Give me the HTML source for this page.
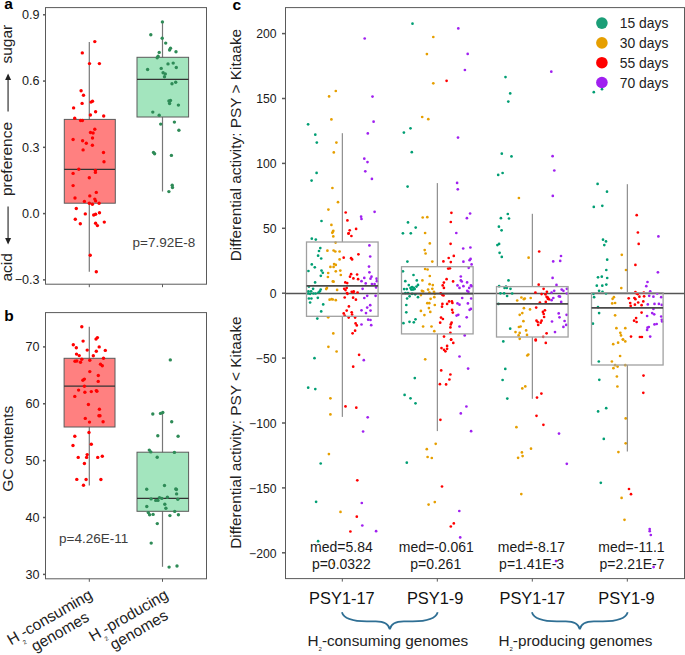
<!DOCTYPE html>
<html><head><meta charset="utf-8"><style>
html,body{margin:0;padding:0;background:#fff;}
svg{display:block;font-family:"Liberation Sans", sans-serif;}
</style></head><body>
<svg width="685" height="655" viewBox="0 0 685 655">
<rect x="0" y="0" width="685" height="655" fill="#fff"/>
<rect x="45.5" y="7.6" width="161.0" height="276.6" fill="none" stroke="#5a5a5a" stroke-width="1"/>
<line x1="43" y1="14.79" x2="45.5" y2="14.79" stroke="#5a5a5a" stroke-width="1.5"/>
<text x="39.6" y="19.09" font-size="12.6" text-anchor="end" fill="#1a1a1a" font-weight="normal" >0.9</text>
<line x1="43" y1="81.06" x2="45.5" y2="81.06" stroke="#5a5a5a" stroke-width="1.5"/>
<text x="39.6" y="85.36" font-size="12.6" text-anchor="end" fill="#1a1a1a" font-weight="normal" >0.6</text>
<line x1="43" y1="147.33" x2="45.5" y2="147.33" stroke="#5a5a5a" stroke-width="1.5"/>
<text x="39.6" y="151.63" font-size="12.6" text-anchor="end" fill="#1a1a1a" font-weight="normal" >0.3</text>
<line x1="43" y1="213.6" x2="45.5" y2="213.6" stroke="#5a5a5a" stroke-width="1.5"/>
<text x="39.6" y="217.9" font-size="12.6" text-anchor="end" fill="#1a1a1a" font-weight="normal" >0.0</text>
<line x1="43" y1="279.87" x2="45.5" y2="279.87" stroke="#5a5a5a" stroke-width="1.5"/>
<text x="39.6" y="284.17" font-size="12.6" text-anchor="end" fill="#1a1a1a" font-weight="normal" >−0.3</text>
<line x1="89.3" y1="284.2" x2="89.3" y2="287.2" stroke="#5a5a5a" stroke-width="1"/>
<line x1="162.5" y1="284.2" x2="162.5" y2="287.2" stroke="#5a5a5a" stroke-width="1"/>
<line x1="89.3" y1="41.9" x2="89.3" y2="271.7" stroke="#777" stroke-width="1.2"/>
<rect x="64.3" y="119.4" width="51.0" height="83.8" fill="#ff8080" stroke="#5a5a5a" stroke-width="1"/>
<line x1="64.1" y1="169.3" x2="115" y2="169.3" stroke="#333" stroke-width="1.3"/>
<line x1="162.5" y1="22" x2="162.5" y2="191.5" stroke="#777" stroke-width="1.2"/>
<rect x="137" y="57.3" width="51.6" height="59.7" fill="#a3e5be" stroke="#5a5a5a" stroke-width="1"/>
<line x1="137" y1="79.3" x2="188.6" y2="79.3" stroke="#333" stroke-width="1.3"/>
<text x="163.85" y="246.7" font-size="13.5" text-anchor="middle" fill="#3d3d3d" font-weight="normal" >p=7.92E-8</text>
<circle cx="94.8" cy="41.6" r="1.7" fill="#ff0000"/>
<circle cx="82.3" cy="52.9" r="1.7" fill="#ff0000"/>
<circle cx="89.5" cy="63.6" r="1.7" fill="#ff0000"/>
<circle cx="99.4" cy="63.6" r="1.7" fill="#ff0000"/>
<circle cx="81.1" cy="90.8" r="1.7" fill="#ff0000"/>
<circle cx="83.5" cy="95.2" r="1.7" fill="#ff0000"/>
<circle cx="82.1" cy="103.4" r="1.7" fill="#ff0000"/>
<circle cx="91" cy="102.1" r="1.7" fill="#ff0000"/>
<circle cx="92.5" cy="101.3" r="1.7" fill="#ff0000"/>
<circle cx="73.6" cy="107.9" r="1.7" fill="#ff0000"/>
<circle cx="95.6" cy="111.7" r="1.7" fill="#ff0000"/>
<circle cx="90.4" cy="115" r="1.7" fill="#ff0000"/>
<circle cx="103.7" cy="116" r="1.7" fill="#ff0000"/>
<circle cx="74.7" cy="118.2" r="1.7" fill="#ff0000"/>
<circle cx="80.6" cy="120.5" r="1.7" fill="#ff0000"/>
<circle cx="82.4" cy="120.5" r="1.7" fill="#ff0000"/>
<circle cx="94.8" cy="129.2" r="1.7" fill="#ff0000"/>
<circle cx="90.5" cy="132.5" r="1.7" fill="#ff0000"/>
<circle cx="93.1" cy="133" r="1.7" fill="#ff0000"/>
<circle cx="73.1" cy="139.5" r="1.7" fill="#ff0000"/>
<circle cx="92.5" cy="138" r="1.7" fill="#ff0000"/>
<circle cx="82.6" cy="140.8" r="1.7" fill="#ff0000"/>
<circle cx="86.3" cy="143.2" r="1.7" fill="#ff0000"/>
<circle cx="92.4" cy="145.2" r="1.7" fill="#ff0000"/>
<circle cx="83.1" cy="149.9" r="1.7" fill="#ff0000"/>
<circle cx="103.5" cy="152.5" r="1.7" fill="#ff0000"/>
<circle cx="104" cy="161.7" r="1.7" fill="#ff0000"/>
<circle cx="78.8" cy="169.3" r="1.7" fill="#ff0000"/>
<circle cx="95.4" cy="170.4" r="1.7" fill="#ff0000"/>
<circle cx="95.4" cy="172.4" r="1.7" fill="#ff0000"/>
<circle cx="73.1" cy="173.4" r="1.7" fill="#ff0000"/>
<circle cx="89.3" cy="177.7" r="1.7" fill="#ff0000"/>
<circle cx="73.1" cy="185.6" r="1.7" fill="#ff0000"/>
<circle cx="96.3" cy="192.4" r="1.7" fill="#ff0000"/>
<circle cx="89.8" cy="195.9" r="1.7" fill="#ff0000"/>
<circle cx="75" cy="198" r="1.7" fill="#ff0000"/>
<circle cx="94.8" cy="199.1" r="1.7" fill="#ff0000"/>
<circle cx="95.6" cy="200.9" r="1.7" fill="#ff0000"/>
<circle cx="84.4" cy="201.4" r="1.7" fill="#ff0000"/>
<circle cx="89.3" cy="203.2" r="1.7" fill="#ff0000"/>
<circle cx="92.4" cy="204.3" r="1.7" fill="#ff0000"/>
<circle cx="99.1" cy="203.2" r="1.7" fill="#ff0000"/>
<circle cx="76.3" cy="208.5" r="1.7" fill="#ff0000"/>
<circle cx="85.3" cy="213.9" r="1.7" fill="#ff0000"/>
<circle cx="93.7" cy="215" r="1.7" fill="#ff0000"/>
<circle cx="95.6" cy="214.2" r="1.7" fill="#ff0000"/>
<circle cx="99.5" cy="212.8" r="1.7" fill="#ff0000"/>
<circle cx="75.3" cy="219.2" r="1.7" fill="#ff0000"/>
<circle cx="80.3" cy="223.8" r="1.7" fill="#ff0000"/>
<circle cx="95.6" cy="223.2" r="1.7" fill="#ff0000"/>
<circle cx="97.4" cy="225.6" r="1.7" fill="#ff0000"/>
<circle cx="104.3" cy="222.1" r="1.7" fill="#ff0000"/>
<circle cx="90.2" cy="255.3" r="1.7" fill="#ff0000"/>
<circle cx="96.3" cy="271.8" r="1.7" fill="#ff0000"/>
<circle cx="162.4" cy="21.9" r="1.7" fill="#2e8b57"/>
<circle cx="150.8" cy="34.8" r="1.7" fill="#2e8b57"/>
<circle cx="162.2" cy="38.2" r="1.7" fill="#2e8b57"/>
<circle cx="165.7" cy="43.1" r="1.7" fill="#2e8b57"/>
<circle cx="170.5" cy="48.3" r="1.7" fill="#2e8b57"/>
<circle cx="169.6" cy="50" r="1.7" fill="#2e8b57"/>
<circle cx="176" cy="51.8" r="1.7" fill="#2e8b57"/>
<circle cx="159.2" cy="52.4" r="1.7" fill="#2e8b57"/>
<circle cx="158.1" cy="56.2" r="1.7" fill="#2e8b57"/>
<circle cx="157.2" cy="57.7" r="1.7" fill="#2e8b57"/>
<circle cx="168" cy="63.9" r="1.7" fill="#2e8b57"/>
<circle cx="173.2" cy="63.1" r="1.7" fill="#2e8b57"/>
<circle cx="176.3" cy="67.5" r="1.7" fill="#2e8b57"/>
<circle cx="147.6" cy="69.5" r="1.7" fill="#2e8b57"/>
<circle cx="161.2" cy="68.4" r="1.7" fill="#2e8b57"/>
<circle cx="163.1" cy="72.7" r="1.7" fill="#2e8b57"/>
<circle cx="165.3" cy="73.9" r="1.7" fill="#2e8b57"/>
<circle cx="164.5" cy="76.7" r="1.7" fill="#2e8b57"/>
<circle cx="172" cy="83.7" r="1.7" fill="#2e8b57"/>
<circle cx="175.7" cy="82.2" r="1.7" fill="#2e8b57"/>
<circle cx="168.9" cy="101" r="1.7" fill="#2e8b57"/>
<circle cx="170.5" cy="100.5" r="1.7" fill="#2e8b57"/>
<circle cx="169.6" cy="103.5" r="1.7" fill="#2e8b57"/>
<circle cx="178.4" cy="105.1" r="1.7" fill="#2e8b57"/>
<circle cx="152.8" cy="112.1" r="1.7" fill="#2e8b57"/>
<circle cx="159.2" cy="115.3" r="1.7" fill="#2e8b57"/>
<circle cx="160.7" cy="124.1" r="1.7" fill="#2e8b57"/>
<circle cx="174.4" cy="122.1" r="1.7" fill="#2e8b57"/>
<circle cx="178.9" cy="130.2" r="1.7" fill="#2e8b57"/>
<circle cx="153.5" cy="152.4" r="1.7" fill="#2e8b57"/>
<circle cx="154.6" cy="153.7" r="1.7" fill="#2e8b57"/>
<circle cx="171.4" cy="155.4" r="1.7" fill="#2e8b57"/>
<circle cx="172.2" cy="185.2" r="1.7" fill="#2e8b57"/>
<circle cx="172.5" cy="187.5" r="1.7" fill="#2e8b57"/>
<circle cx="168.9" cy="191.6" r="1.7" fill="#2e8b57"/>
<rect x="45.5" y="312.6" width="161.0" height="266.2" fill="none" stroke="#5a5a5a" stroke-width="1"/>
<line x1="43" y1="346.9" x2="45.5" y2="346.9" stroke="#5a5a5a" stroke-width="1.5"/>
<text x="39.6" y="351.2" font-size="12.6" text-anchor="end" fill="#1a1a1a" font-weight="normal" >70</text>
<line x1="43" y1="403.77" x2="45.5" y2="403.77" stroke="#5a5a5a" stroke-width="1.5"/>
<text x="39.6" y="408.07" font-size="12.6" text-anchor="end" fill="#1a1a1a" font-weight="normal" >60</text>
<line x1="43" y1="460.65" x2="45.5" y2="460.65" stroke="#5a5a5a" stroke-width="1.5"/>
<text x="39.6" y="464.95" font-size="12.6" text-anchor="end" fill="#1a1a1a" font-weight="normal" >50</text>
<line x1="43" y1="517.52" x2="45.5" y2="517.52" stroke="#5a5a5a" stroke-width="1.5"/>
<text x="39.6" y="521.82" font-size="12.6" text-anchor="end" fill="#1a1a1a" font-weight="normal" >40</text>
<line x1="43" y1="574.4" x2="45.5" y2="574.4" stroke="#5a5a5a" stroke-width="1.5"/>
<text x="39.6" y="578.7" font-size="12.6" text-anchor="end" fill="#1a1a1a" font-weight="normal" >30</text>
<line x1="89.3" y1="578.8" x2="89.3" y2="581.8" stroke="#5a5a5a" stroke-width="1"/>
<line x1="162.5" y1="578.8" x2="162.5" y2="581.8" stroke="#5a5a5a" stroke-width="1"/>
<line x1="89.3" y1="326.7" x2="89.3" y2="485.4" stroke="#777" stroke-width="1.2"/>
<rect x="64.1" y="358.3" width="50.9" height="68.7" fill="#ff8080" stroke="#5a5a5a" stroke-width="1"/>
<line x1="64.1" y1="386.2" x2="115" y2="386.2" stroke="#333" stroke-width="1.3"/>
<line x1="162.5" y1="411.4" x2="162.5" y2="566.8" stroke="#777" stroke-width="1.2"/>
<rect x="137" y="452.2" width="51.6" height="59.1" fill="#a3e5be" stroke="#5a5a5a" stroke-width="1"/>
<line x1="137" y1="498.3" x2="188.6" y2="498.3" stroke="#333" stroke-width="1.3"/>
<text x="93.65" y="542.9" font-size="13.5" text-anchor="middle" fill="#3d3d3d" font-weight="normal" >p=4.26E-11</text>
<circle cx="81.8" cy="326.8" r="1.7" fill="#ff0000"/>
<circle cx="96" cy="339.1" r="1.7" fill="#ff0000"/>
<circle cx="97.4" cy="337.6" r="1.7" fill="#ff0000"/>
<circle cx="83.1" cy="341.1" r="1.7" fill="#ff0000"/>
<circle cx="73.3" cy="344.8" r="1.7" fill="#ff0000"/>
<circle cx="76.3" cy="347.7" r="1.7" fill="#ff0000"/>
<circle cx="87.2" cy="350.1" r="1.7" fill="#ff0000"/>
<circle cx="99.2" cy="346.9" r="1.7" fill="#ff0000"/>
<circle cx="96.3" cy="351.3" r="1.7" fill="#ff0000"/>
<circle cx="105.3" cy="350.4" r="1.7" fill="#ff0000"/>
<circle cx="76.5" cy="354.1" r="1.7" fill="#ff0000"/>
<circle cx="79.2" cy="355.6" r="1.7" fill="#ff0000"/>
<circle cx="93.3" cy="355.8" r="1.7" fill="#ff0000"/>
<circle cx="103.5" cy="358.2" r="1.7" fill="#ff0000"/>
<circle cx="81.8" cy="359.3" r="1.7" fill="#ff0000"/>
<circle cx="75" cy="361.3" r="1.7" fill="#ff0000"/>
<circle cx="76.8" cy="361" r="1.7" fill="#ff0000"/>
<circle cx="80.5" cy="362.2" r="1.7" fill="#ff0000"/>
<circle cx="89.8" cy="360.3" r="1.7" fill="#ff0000"/>
<circle cx="100.5" cy="364.2" r="1.7" fill="#ff0000"/>
<circle cx="102.3" cy="365.7" r="1.7" fill="#ff0000"/>
<circle cx="89.8" cy="371.6" r="1.7" fill="#ff0000"/>
<circle cx="98.3" cy="375.5" r="1.7" fill="#ff0000"/>
<circle cx="82.9" cy="380.3" r="1.7" fill="#ff0000"/>
<circle cx="84.4" cy="379.1" r="1.7" fill="#ff0000"/>
<circle cx="98.2" cy="381.4" r="1.7" fill="#ff0000"/>
<circle cx="84.4" cy="386.3" r="1.7" fill="#ff0000"/>
<circle cx="78.6" cy="390.1" r="1.7" fill="#ff0000"/>
<circle cx="84.9" cy="392.3" r="1.7" fill="#ff0000"/>
<circle cx="91.3" cy="391.6" r="1.7" fill="#ff0000"/>
<circle cx="96.3" cy="390.6" r="1.7" fill="#ff0000"/>
<circle cx="96.9" cy="391.3" r="1.7" fill="#ff0000"/>
<circle cx="74.8" cy="396.4" r="1.7" fill="#ff0000"/>
<circle cx="88.4" cy="404.5" r="1.7" fill="#ff0000"/>
<circle cx="99.4" cy="409.2" r="1.7" fill="#ff0000"/>
<circle cx="98.9" cy="415.7" r="1.7" fill="#ff0000"/>
<circle cx="100" cy="415.7" r="1.7" fill="#ff0000"/>
<circle cx="85.3" cy="418.4" r="1.7" fill="#ff0000"/>
<circle cx="89.5" cy="422.1" r="1.7" fill="#ff0000"/>
<circle cx="103.1" cy="421.8" r="1.7" fill="#ff0000"/>
<circle cx="89" cy="432.5" r="1.7" fill="#ff0000"/>
<circle cx="74.8" cy="436.3" r="1.7" fill="#ff0000"/>
<circle cx="73" cy="445.5" r="1.7" fill="#ff0000"/>
<circle cx="91.3" cy="444.2" r="1.7" fill="#ff0000"/>
<circle cx="87.2" cy="454.6" r="1.7" fill="#ff0000"/>
<circle cx="86.6" cy="457.4" r="1.7" fill="#ff0000"/>
<circle cx="78.2" cy="457.4" r="1.7" fill="#ff0000"/>
<circle cx="97.7" cy="457.4" r="1.7" fill="#ff0000"/>
<circle cx="102.3" cy="456.3" r="1.7" fill="#ff0000"/>
<circle cx="84.4" cy="463.5" r="1.7" fill="#ff0000"/>
<circle cx="76.8" cy="479.4" r="1.7" fill="#ff0000"/>
<circle cx="86.1" cy="479.5" r="1.7" fill="#ff0000"/>
<circle cx="100.9" cy="479.5" r="1.7" fill="#ff0000"/>
<circle cx="83.5" cy="485.3" r="1.7" fill="#ff0000"/>
<circle cx="170.3" cy="359.9" r="1.7" fill="#2e8b57"/>
<circle cx="152.8" cy="414" r="1.7" fill="#2e8b57"/>
<circle cx="160.5" cy="413.4" r="1.7" fill="#2e8b57"/>
<circle cx="162.8" cy="412.5" r="1.7" fill="#2e8b57"/>
<circle cx="171.7" cy="421.7" r="1.7" fill="#2e8b57"/>
<circle cx="157.8" cy="435.7" r="1.7" fill="#2e8b57"/>
<circle cx="178.1" cy="436.2" r="1.7" fill="#2e8b57"/>
<circle cx="149.3" cy="450.1" r="1.7" fill="#2e8b57"/>
<circle cx="150.8" cy="451.9" r="1.7" fill="#2e8b57"/>
<circle cx="174.4" cy="452.4" r="1.7" fill="#2e8b57"/>
<circle cx="157.2" cy="457.3" r="1.7" fill="#2e8b57"/>
<circle cx="164.5" cy="485.5" r="1.7" fill="#2e8b57"/>
<circle cx="146.7" cy="489.3" r="1.7" fill="#2e8b57"/>
<circle cx="175.8" cy="488.9" r="1.7" fill="#2e8b57"/>
<circle cx="176.4" cy="489.5" r="1.7" fill="#2e8b57"/>
<circle cx="176.6" cy="493.9" r="1.7" fill="#2e8b57"/>
<circle cx="151.1" cy="498.9" r="1.7" fill="#2e8b57"/>
<circle cx="155.7" cy="500.4" r="1.7" fill="#2e8b57"/>
<circle cx="158" cy="500.4" r="1.7" fill="#2e8b57"/>
<circle cx="159.5" cy="497.6" r="1.7" fill="#2e8b57"/>
<circle cx="161.8" cy="498.4" r="1.7" fill="#2e8b57"/>
<circle cx="167.4" cy="497.2" r="1.7" fill="#2e8b57"/>
<circle cx="177.8" cy="499.2" r="1.7" fill="#2e8b57"/>
<circle cx="146.8" cy="506.5" r="1.7" fill="#2e8b57"/>
<circle cx="164.8" cy="504.2" r="1.7" fill="#2e8b57"/>
<circle cx="165.9" cy="508.3" r="1.7" fill="#2e8b57"/>
<circle cx="148.3" cy="512.6" r="1.7" fill="#2e8b57"/>
<circle cx="149.6" cy="514.7" r="1.7" fill="#2e8b57"/>
<circle cx="153.1" cy="514.4" r="1.7" fill="#2e8b57"/>
<circle cx="174.7" cy="511.4" r="1.7" fill="#2e8b57"/>
<circle cx="169.9" cy="515.6" r="1.7" fill="#2e8b57"/>
<circle cx="178.4" cy="514.7" r="1.7" fill="#2e8b57"/>
<circle cx="157.3" cy="523.6" r="1.7" fill="#2e8b57"/>
<circle cx="151.2" cy="543.1" r="1.7" fill="#2e8b57"/>
<circle cx="169.1" cy="567.1" r="1.7" fill="#2e8b57"/>
<circle cx="177" cy="566" r="1.7" fill="#2e8b57"/>
<rect x="285.5" y="7.6" width="399.0" height="571.0" fill="none" stroke="#5a5a5a" stroke-width="1"/>
<line x1="282" y1="33.6" x2="285.5" y2="33.6" stroke="#5a5a5a" stroke-width="1.5"/>
<text x="276.5" y="38.4" font-size="12.2" text-anchor="end" fill="#1a1a1a" font-weight="normal" >200</text>
<line x1="282" y1="98.5" x2="285.5" y2="98.5" stroke="#5a5a5a" stroke-width="1.5"/>
<text x="276.5" y="103.3" font-size="12.2" text-anchor="end" fill="#1a1a1a" font-weight="normal" >150</text>
<line x1="282" y1="163.4" x2="285.5" y2="163.4" stroke="#5a5a5a" stroke-width="1.5"/>
<text x="276.5" y="168.2" font-size="12.2" text-anchor="end" fill="#1a1a1a" font-weight="normal" >100</text>
<line x1="282" y1="228.3" x2="285.5" y2="228.3" stroke="#5a5a5a" stroke-width="1.5"/>
<text x="276.5" y="233.1" font-size="12.2" text-anchor="end" fill="#1a1a1a" font-weight="normal" >50</text>
<line x1="282" y1="293.2" x2="285.5" y2="293.2" stroke="#5a5a5a" stroke-width="1.5"/>
<text x="276.5" y="298.0" font-size="12.2" text-anchor="end" fill="#1a1a1a" font-weight="normal" >0</text>
<line x1="282" y1="358.1" x2="285.5" y2="358.1" stroke="#5a5a5a" stroke-width="1.5"/>
<text x="276.5" y="362.9" font-size="12.2" text-anchor="end" fill="#1a1a1a" font-weight="normal" >−50</text>
<line x1="282" y1="423.0" x2="285.5" y2="423.0" stroke="#5a5a5a" stroke-width="1.5"/>
<text x="276.5" y="427.8" font-size="12.2" text-anchor="end" fill="#1a1a1a" font-weight="normal" >−100</text>
<line x1="282" y1="487.9" x2="285.5" y2="487.9" stroke="#5a5a5a" stroke-width="1.5"/>
<text x="276.5" y="492.7" font-size="12.2" text-anchor="end" fill="#1a1a1a" font-weight="normal" >−150</text>
<line x1="282" y1="552.8" x2="285.5" y2="552.8" stroke="#5a5a5a" stroke-width="1.5"/>
<text x="276.5" y="557.6" font-size="12.2" text-anchor="end" fill="#1a1a1a" font-weight="normal" >−200</text>
<line x1="342.3" y1="578.6" x2="342.3" y2="581.6" stroke="#5a5a5a" stroke-width="1"/>
<line x1="437.3" y1="578.6" x2="437.3" y2="581.6" stroke="#5a5a5a" stroke-width="1"/>
<line x1="532.3" y1="578.6" x2="532.3" y2="581.6" stroke="#5a5a5a" stroke-width="1"/>
<line x1="627.3" y1="578.6" x2="627.3" y2="581.6" stroke="#5a5a5a" stroke-width="1"/>
<line x1="285.5" y1="293.5" x2="684.5" y2="293.5" stroke="#555" stroke-width="1.3"/>
<circle cx="364.7" cy="38.5" r="1.35" fill="#a020f0"/>
<circle cx="372.5" cy="96.6" r="1.35" fill="#a020f0"/>
<circle cx="373.6" cy="121.7" r="1.35" fill="#a020f0"/>
<circle cx="367.8" cy="133.4" r="1.35" fill="#a020f0"/>
<circle cx="364.3" cy="158.7" r="1.35" fill="#a020f0"/>
<circle cx="367.5" cy="162.1" r="1.35" fill="#a020f0"/>
<circle cx="365.3" cy="171.3" r="1.35" fill="#a020f0"/>
<circle cx="371.9" cy="178.9" r="1.35" fill="#a020f0"/>
<circle cx="374.6" cy="211.8" r="1.35" fill="#a020f0"/>
<circle cx="361.1" cy="216.7" r="1.35" fill="#a020f0"/>
<circle cx="361.5" cy="219" r="1.35" fill="#a020f0"/>
<circle cx="335.8" cy="91" r="1.35" fill="#e69f00"/>
<circle cx="329.1" cy="96.4" r="1.35" fill="#e69f00"/>
<circle cx="331.4" cy="119.4" r="1.35" fill="#e69f00"/>
<circle cx="336.4" cy="142.6" r="1.35" fill="#e69f00"/>
<circle cx="333.8" cy="152.4" r="1.35" fill="#e69f00"/>
<circle cx="332.4" cy="188" r="1.35" fill="#e69f00"/>
<circle cx="338" cy="202.2" r="1.35" fill="#e69f00"/>
<circle cx="328.4" cy="209.6" r="1.35" fill="#e69f00"/>
<circle cx="331.4" cy="224.9" r="1.35" fill="#e69f00"/>
<circle cx="333.3" cy="230.8" r="1.35" fill="#e69f00"/>
<circle cx="332.3" cy="232.8" r="1.35" fill="#e69f00"/>
<circle cx="308.1" cy="124.3" r="1.35" fill="#009e73"/>
<circle cx="315.3" cy="134.7" r="1.35" fill="#009e73"/>
<circle cx="316.8" cy="142.6" r="1.35" fill="#009e73"/>
<circle cx="316.6" cy="172.9" r="1.35" fill="#009e73"/>
<circle cx="311.6" cy="180.6" r="1.35" fill="#009e73"/>
<circle cx="321.5" cy="221" r="1.35" fill="#009e73"/>
<circle cx="345.7" cy="212.5" r="1.35" fill="#ff0000"/>
<circle cx="347.4" cy="220.4" r="1.35" fill="#ff0000"/>
<circle cx="356.1" cy="228.9" r="1.35" fill="#ff0000"/>
<circle cx="349.7" cy="230.3" r="1.35" fill="#ff0000"/>
<circle cx="348.4" cy="233.6" r="1.35" fill="#ff0000"/>
<circle cx="332.9" cy="231.7" r="1.35" fill="#e69f00"/>
<circle cx="333.3" cy="236.4" r="1.35" fill="#e69f00"/>
<circle cx="335.6" cy="242.6" r="1.35" fill="#e69f00"/>
<circle cx="348.7" cy="233.4" r="1.35" fill="#ff0000"/>
<circle cx="351.4" cy="236" r="1.35" fill="#ff0000"/>
<circle cx="311.8" cy="238.7" r="1.35" fill="#009e73"/>
<circle cx="315.8" cy="239.6" r="1.35" fill="#009e73"/>
<circle cx="369.4" cy="245.4" r="1.35" fill="#a020f0"/>
<circle cx="370.2" cy="256.5" r="1.35" fill="#a020f0"/>
<circle cx="369" cy="266.6" r="1.35" fill="#a020f0"/>
<circle cx="369.4" cy="272.3" r="1.35" fill="#a020f0"/>
<circle cx="320.3" cy="248.1" r="1.35" fill="#009e73"/>
<circle cx="319" cy="251" r="1.35" fill="#009e73"/>
<circle cx="318.1" cy="255.7" r="1.35" fill="#009e73"/>
<circle cx="321.2" cy="258.5" r="1.35" fill="#009e73"/>
<circle cx="311.8" cy="264.4" r="1.35" fill="#009e73"/>
<circle cx="314.8" cy="267.3" r="1.35" fill="#009e73"/>
<circle cx="308.4" cy="271" r="1.35" fill="#009e73"/>
<circle cx="321.5" cy="270.6" r="1.35" fill="#009e73"/>
<circle cx="322.8" cy="272.8" r="1.35" fill="#009e73"/>
<circle cx="320.8" cy="275.8" r="1.35" fill="#009e73"/>
<circle cx="315.1" cy="282.4" r="1.35" fill="#009e73"/>
<circle cx="327.4" cy="250.7" r="1.35" fill="#e69f00"/>
<circle cx="333.6" cy="250.5" r="1.35" fill="#e69f00"/>
<circle cx="335.3" cy="251.5" r="1.35" fill="#e69f00"/>
<circle cx="339.6" cy="251.5" r="1.35" fill="#e69f00"/>
<circle cx="339.6" cy="259.4" r="1.35" fill="#e69f00"/>
<circle cx="334.1" cy="264.1" r="1.35" fill="#e69f00"/>
<circle cx="335.8" cy="264.9" r="1.35" fill="#e69f00"/>
<circle cx="330.4" cy="266.9" r="1.35" fill="#e69f00"/>
<circle cx="333.6" cy="266.9" r="1.35" fill="#e69f00"/>
<circle cx="340.3" cy="270.6" r="1.35" fill="#e69f00"/>
<circle cx="335.8" cy="271.3" r="1.35" fill="#e69f00"/>
<circle cx="328.2" cy="273" r="1.35" fill="#e69f00"/>
<circle cx="340.8" cy="275" r="1.35" fill="#e69f00"/>
<circle cx="327.9" cy="277" r="1.35" fill="#e69f00"/>
<circle cx="332.8" cy="281.4" r="1.35" fill="#e69f00"/>
<circle cx="333.6" cy="281.7" r="1.35" fill="#e69f00"/>
<circle cx="358.4" cy="254.3" r="1.35" fill="#ff0000"/>
<circle cx="343.7" cy="257.7" r="1.35" fill="#ff0000"/>
<circle cx="351.1" cy="258.2" r="1.35" fill="#ff0000"/>
<circle cx="352.1" cy="259.4" r="1.35" fill="#ff0000"/>
<circle cx="351.1" cy="274.2" r="1.35" fill="#ff0000"/>
<circle cx="357.1" cy="274.5" r="1.35" fill="#ff0000"/>
<circle cx="350" cy="276.7" r="1.35" fill="#ff0000"/>
<circle cx="353.4" cy="278.4" r="1.35" fill="#ff0000"/>
<circle cx="358.1" cy="279.2" r="1.35" fill="#ff0000"/>
<circle cx="345.3" cy="282.4" r="1.35" fill="#ff0000"/>
<circle cx="347.2" cy="283.1" r="1.35" fill="#ff0000"/>
<circle cx="371.5" cy="276.7" r="1.35" fill="#a020f0"/>
<circle cx="370.5" cy="278.7" r="1.35" fill="#a020f0"/>
<circle cx="364.3" cy="277.9" r="1.35" fill="#a020f0"/>
<circle cx="361.5" cy="281.2" r="1.35" fill="#a020f0"/>
<circle cx="365.7" cy="283.4" r="1.35" fill="#a020f0"/>
<circle cx="376.6" cy="278.7" r="1.35" fill="#a020f0"/>
<circle cx="376.9" cy="281.2" r="1.35" fill="#a020f0"/>
<circle cx="371.9" cy="284.1" r="1.35" fill="#a020f0"/>
<circle cx="374.6" cy="284.1" r="1.35" fill="#a020f0"/>
<circle cx="376.1" cy="287.4" r="1.35" fill="#a020f0"/>
<circle cx="362.6" cy="288.8" r="1.35" fill="#a020f0"/>
<circle cx="367.2" cy="295.8" r="1.35" fill="#a020f0"/>
<circle cx="308.9" cy="286.6" r="1.35" fill="#009e73"/>
<circle cx="313.1" cy="288.8" r="1.35" fill="#009e73"/>
<circle cx="308.4" cy="291.3" r="1.35" fill="#009e73"/>
<circle cx="311.1" cy="291.3" r="1.35" fill="#009e73"/>
<circle cx="313.4" cy="293.5" r="1.35" fill="#009e73"/>
<circle cx="315.6" cy="293.5" r="1.35" fill="#009e73"/>
<circle cx="318.5" cy="292.5" r="1.35" fill="#009e73"/>
<circle cx="319.8" cy="291.3" r="1.35" fill="#009e73"/>
<circle cx="320.7" cy="289.6" r="1.35" fill="#009e73"/>
<circle cx="308.1" cy="293.5" r="1.35" fill="#009e73"/>
<circle cx="310.1" cy="293.8" r="1.35" fill="#009e73"/>
<circle cx="326.9" cy="287.9" r="1.35" fill="#e69f00"/>
<circle cx="326.2" cy="289.1" r="1.35" fill="#e69f00"/>
<circle cx="337.1" cy="289.9" r="1.35" fill="#e69f00"/>
<circle cx="344.2" cy="288.8" r="1.35" fill="#ff0000"/>
<circle cx="346.7" cy="287.9" r="1.35" fill="#ff0000"/>
<circle cx="345.5" cy="290.1" r="1.35" fill="#ff0000"/>
<circle cx="347" cy="293" r="1.35" fill="#ff0000"/>
<circle cx="347.5" cy="293.8" r="1.35" fill="#ff0000"/>
<circle cx="351.7" cy="291.8" r="1.35" fill="#ff0000"/>
<circle cx="353.7" cy="291.3" r="1.35" fill="#ff0000"/>
<circle cx="353.4" cy="292.5" r="1.35" fill="#ff0000"/>
<circle cx="357.6" cy="292.5" r="1.35" fill="#ff0000"/>
<circle cx="375.6" cy="295.8" r="1.35" fill="#a020f0"/>
<circle cx="364.3" cy="298" r="1.35" fill="#a020f0"/>
<circle cx="344.7" cy="297.5" r="1.35" fill="#ff0000"/>
<circle cx="353.1" cy="297.7" r="1.35" fill="#ff0000"/>
<circle cx="355.9" cy="299.7" r="1.35" fill="#ff0000"/>
<circle cx="308.9" cy="298.5" r="1.35" fill="#009e73"/>
<circle cx="311.4" cy="298.5" r="1.35" fill="#009e73"/>
<circle cx="317.8" cy="297.8" r="1.35" fill="#009e73"/>
<circle cx="310.1" cy="302.5" r="1.35" fill="#009e73"/>
<circle cx="323.2" cy="304.4" r="1.35" fill="#009e73"/>
<circle cx="321.2" cy="311.4" r="1.35" fill="#009e73"/>
<circle cx="317.3" cy="318.6" r="1.35" fill="#009e73"/>
<circle cx="329.6" cy="299.7" r="1.35" fill="#e69f00"/>
<circle cx="331.6" cy="299.2" r="1.35" fill="#e69f00"/>
<circle cx="332.8" cy="299.5" r="1.35" fill="#e69f00"/>
<circle cx="335.8" cy="300.2" r="1.35" fill="#e69f00"/>
<circle cx="348.9" cy="306.4" r="1.35" fill="#ff0000"/>
<circle cx="346.7" cy="310.6" r="1.35" fill="#ff0000"/>
<circle cx="343.7" cy="313.4" r="1.35" fill="#ff0000"/>
<circle cx="344.7" cy="315.6" r="1.35" fill="#ff0000"/>
<circle cx="351.7" cy="312.3" r="1.35" fill="#ff0000"/>
<circle cx="352.1" cy="314.5" r="1.35" fill="#ff0000"/>
<circle cx="348.7" cy="317.6" r="1.35" fill="#ff0000"/>
<circle cx="355.1" cy="317.6" r="1.35" fill="#ff0000"/>
<circle cx="355.6" cy="323.4" r="1.35" fill="#ff0000"/>
<circle cx="356.8" cy="325.4" r="1.35" fill="#ff0000"/>
<circle cx="355.1" cy="330.7" r="1.35" fill="#ff0000"/>
<circle cx="352.6" cy="333.3" r="1.35" fill="#ff0000"/>
<circle cx="370.2" cy="305.2" r="1.35" fill="#a020f0"/>
<circle cx="367.2" cy="307.6" r="1.35" fill="#a020f0"/>
<circle cx="370.5" cy="310.6" r="1.35" fill="#a020f0"/>
<circle cx="361.5" cy="310.3" r="1.35" fill="#a020f0"/>
<circle cx="366" cy="313.1" r="1.35" fill="#a020f0"/>
<circle cx="368.2" cy="319.7" r="1.35" fill="#a020f0"/>
<circle cx="370.5" cy="320" r="1.35" fill="#a020f0"/>
<circle cx="361.5" cy="324.5" r="1.35" fill="#a020f0"/>
<circle cx="371.2" cy="325.2" r="1.35" fill="#a020f0"/>
<circle cx="328.2" cy="317.3" r="1.35" fill="#e69f00"/>
<circle cx="333.3" cy="333.4" r="1.35" fill="#e69f00"/>
<circle cx="328.4" cy="346.8" r="1.35" fill="#e69f00"/>
<circle cx="336.6" cy="351.5" r="1.35" fill="#e69f00"/>
<circle cx="330.4" cy="398.3" r="1.35" fill="#e69f00"/>
<circle cx="330.4" cy="414.4" r="1.35" fill="#e69f00"/>
<circle cx="328.9" cy="454.1" r="1.35" fill="#e69f00"/>
<circle cx="340.5" cy="511.9" r="1.35" fill="#e69f00"/>
<circle cx="333.5" cy="563.5" r="1.35" fill="#e69f00"/>
<circle cx="359.1" cy="354.8" r="1.35" fill="#ff0000"/>
<circle cx="353.2" cy="366.7" r="1.35" fill="#ff0000"/>
<circle cx="345.5" cy="406.4" r="1.35" fill="#ff0000"/>
<circle cx="356.3" cy="407.7" r="1.35" fill="#ff0000"/>
<circle cx="357.3" cy="480.3" r="1.35" fill="#ff0000"/>
<circle cx="356.8" cy="516.7" r="1.35" fill="#ff0000"/>
<circle cx="350.4" cy="531.5" r="1.35" fill="#ff0000"/>
<circle cx="314.5" cy="358.2" r="1.35" fill="#009e73"/>
<circle cx="308.2" cy="387.7" r="1.35" fill="#009e73"/>
<circle cx="315.3" cy="389.1" r="1.35" fill="#009e73"/>
<circle cx="320.7" cy="463.5" r="1.35" fill="#009e73"/>
<circle cx="316.1" cy="501.8" r="1.35" fill="#009e73"/>
<circle cx="318.1" cy="541.2" r="1.35" fill="#009e73"/>
<circle cx="363.8" cy="360.2" r="1.35" fill="#a020f0"/>
<circle cx="367.7" cy="417.3" r="1.35" fill="#a020f0"/>
<circle cx="363.1" cy="431.5" r="1.35" fill="#a020f0"/>
<circle cx="361.8" cy="503" r="1.35" fill="#a020f0"/>
<circle cx="362.3" cy="525.5" r="1.35" fill="#a020f0"/>
<circle cx="376.1" cy="531.2" r="1.35" fill="#a020f0"/>
<circle cx="412.5" cy="23.7" r="1.35" fill="#009e73"/>
<circle cx="410.5" cy="128.3" r="1.35" fill="#009e73"/>
<circle cx="403.9" cy="132.6" r="1.35" fill="#009e73"/>
<circle cx="411.8" cy="152.2" r="1.35" fill="#009e73"/>
<circle cx="407.6" cy="186.6" r="1.35" fill="#009e73"/>
<circle cx="408" cy="222.4" r="1.35" fill="#009e73"/>
<circle cx="415.7" cy="227.6" r="1.35" fill="#009e73"/>
<circle cx="402.9" cy="233.3" r="1.35" fill="#009e73"/>
<circle cx="410.8" cy="233.3" r="1.35" fill="#009e73"/>
<circle cx="407.4" cy="261.6" r="1.35" fill="#009e73"/>
<circle cx="458.3" cy="28.4" r="1.35" fill="#a020f0"/>
<circle cx="467.7" cy="53.9" r="1.35" fill="#a020f0"/>
<circle cx="464.9" cy="70" r="1.35" fill="#a020f0"/>
<circle cx="458" cy="137.6" r="1.35" fill="#a020f0"/>
<circle cx="457.1" cy="182.9" r="1.35" fill="#a020f0"/>
<circle cx="457.8" cy="189.3" r="1.35" fill="#a020f0"/>
<circle cx="470.1" cy="213.5" r="1.35" fill="#a020f0"/>
<circle cx="466.9" cy="218.2" r="1.35" fill="#a020f0"/>
<circle cx="456.3" cy="233" r="1.35" fill="#a020f0"/>
<circle cx="463.2" cy="248.5" r="1.35" fill="#a020f0"/>
<circle cx="470.4" cy="247.5" r="1.35" fill="#a020f0"/>
<circle cx="463.4" cy="261.7" r="1.35" fill="#a020f0"/>
<circle cx="469.6" cy="260.2" r="1.35" fill="#a020f0"/>
<circle cx="470.6" cy="258.9" r="1.35" fill="#a020f0"/>
<circle cx="471.6" cy="264.4" r="1.35" fill="#a020f0"/>
<circle cx="433.3" cy="37" r="1.35" fill="#e69f00"/>
<circle cx="426.9" cy="54.1" r="1.35" fill="#e69f00"/>
<circle cx="433.3" cy="83.3" r="1.35" fill="#e69f00"/>
<circle cx="422.2" cy="117" r="1.35" fill="#e69f00"/>
<circle cx="428.3" cy="119.2" r="1.35" fill="#e69f00"/>
<circle cx="422.7" cy="217.5" r="1.35" fill="#e69f00"/>
<circle cx="427.3" cy="217.2" r="1.35" fill="#e69f00"/>
<circle cx="425.1" cy="233" r="1.35" fill="#e69f00"/>
<circle cx="429.8" cy="243.4" r="1.35" fill="#e69f00"/>
<circle cx="424.7" cy="250.1" r="1.35" fill="#e69f00"/>
<circle cx="425.6" cy="253.5" r="1.35" fill="#e69f00"/>
<circle cx="432.3" cy="261.6" r="1.35" fill="#e69f00"/>
<circle cx="446.6" cy="80.8" r="1.35" fill="#ff0000"/>
<circle cx="451.4" cy="212.8" r="1.35" fill="#ff0000"/>
<circle cx="450.8" cy="222" r="1.35" fill="#ff0000"/>
<circle cx="450.6" cy="243.8" r="1.35" fill="#ff0000"/>
<circle cx="448.7" cy="258" r="1.35" fill="#ff0000"/>
<circle cx="453.8" cy="255.9" r="1.35" fill="#ff0000"/>
<circle cx="443.4" cy="261.4" r="1.35" fill="#ff0000"/>
<circle cx="450.8" cy="262.1" r="1.35" fill="#ff0000"/>
<circle cx="425.1" cy="269" r="1.35" fill="#e69f00"/>
<circle cx="427.6" cy="269.5" r="1.35" fill="#e69f00"/>
<circle cx="429.8" cy="276" r="1.35" fill="#e69f00"/>
<circle cx="422.4" cy="280.4" r="1.35" fill="#e69f00"/>
<circle cx="448.2" cy="268.6" r="1.35" fill="#ff0000"/>
<circle cx="449.9" cy="268.3" r="1.35" fill="#ff0000"/>
<circle cx="446.6" cy="279.2" r="1.35" fill="#ff0000"/>
<circle cx="453.1" cy="281.4" r="1.35" fill="#ff0000"/>
<circle cx="443.9" cy="282.6" r="1.35" fill="#ff0000"/>
<circle cx="442.7" cy="285.4" r="1.35" fill="#ff0000"/>
<circle cx="443.9" cy="287.9" r="1.35" fill="#ff0000"/>
<circle cx="468.7" cy="267.8" r="1.35" fill="#a020f0"/>
<circle cx="460.8" cy="276.5" r="1.35" fill="#a020f0"/>
<circle cx="460.8" cy="280.4" r="1.35" fill="#a020f0"/>
<circle cx="461.8" cy="281.5" r="1.35" fill="#a020f0"/>
<circle cx="467.1" cy="282.4" r="1.35" fill="#a020f0"/>
<circle cx="402.9" cy="271.3" r="1.35" fill="#009e73"/>
<circle cx="413.5" cy="275" r="1.35" fill="#009e73"/>
<circle cx="405.3" cy="281.2" r="1.35" fill="#009e73"/>
<circle cx="416.8" cy="280.4" r="1.35" fill="#009e73"/>
<circle cx="408.8" cy="285.1" r="1.35" fill="#009e73"/>
<circle cx="418" cy="284.9" r="1.35" fill="#009e73"/>
<circle cx="416.5" cy="286.6" r="1.35" fill="#009e73"/>
<circle cx="410.5" cy="287.9" r="1.35" fill="#009e73"/>
<circle cx="412.1" cy="287.1" r="1.35" fill="#009e73"/>
<circle cx="413.8" cy="287.9" r="1.35" fill="#009e73"/>
<circle cx="413" cy="289.6" r="1.35" fill="#009e73"/>
<circle cx="411.3" cy="289.6" r="1.35" fill="#009e73"/>
<circle cx="414.7" cy="289.1" r="1.35" fill="#009e73"/>
<circle cx="404.1" cy="289.1" r="1.35" fill="#009e73"/>
<circle cx="406.8" cy="289.1" r="1.35" fill="#009e73"/>
<circle cx="408" cy="293" r="1.35" fill="#009e73"/>
<circle cx="405.4" cy="293" r="1.35" fill="#009e73"/>
<circle cx="412.1" cy="293.8" r="1.35" fill="#009e73"/>
<circle cx="415.2" cy="294.3" r="1.35" fill="#009e73"/>
<circle cx="409.6" cy="296.3" r="1.35" fill="#009e73"/>
<circle cx="407.1" cy="298.5" r="1.35" fill="#009e73"/>
<circle cx="418" cy="297.2" r="1.35" fill="#009e73"/>
<circle cx="406.3" cy="305" r="1.35" fill="#009e73"/>
<circle cx="406.3" cy="312.3" r="1.35" fill="#009e73"/>
<circle cx="403.4" cy="323.2" r="1.35" fill="#009e73"/>
<circle cx="409.5" cy="321.8" r="1.35" fill="#009e73"/>
<circle cx="413.8" cy="322.3" r="1.35" fill="#009e73"/>
<circle cx="415.5" cy="319.3" r="1.35" fill="#009e73"/>
<circle cx="429.6" cy="284.2" r="1.35" fill="#e69f00"/>
<circle cx="432.8" cy="285.1" r="1.35" fill="#e69f00"/>
<circle cx="432.3" cy="288.8" r="1.35" fill="#e69f00"/>
<circle cx="428.1" cy="289.6" r="1.35" fill="#e69f00"/>
<circle cx="421.9" cy="290.8" r="1.35" fill="#e69f00"/>
<circle cx="423.1" cy="291.3" r="1.35" fill="#e69f00"/>
<circle cx="429.4" cy="292.5" r="1.35" fill="#e69f00"/>
<circle cx="434" cy="291.8" r="1.35" fill="#e69f00"/>
<circle cx="434.8" cy="293.8" r="1.35" fill="#e69f00"/>
<circle cx="420.9" cy="295.1" r="1.35" fill="#e69f00"/>
<circle cx="430.6" cy="298.8" r="1.35" fill="#e69f00"/>
<circle cx="434.3" cy="297.2" r="1.35" fill="#e69f00"/>
<circle cx="427.3" cy="303.2" r="1.35" fill="#e69f00"/>
<circle cx="429.3" cy="303.2" r="1.35" fill="#e69f00"/>
<circle cx="434.8" cy="305" r="1.35" fill="#e69f00"/>
<circle cx="428.9" cy="308.1" r="1.35" fill="#e69f00"/>
<circle cx="420.9" cy="310.9" r="1.35" fill="#e69f00"/>
<circle cx="430.3" cy="311.9" r="1.35" fill="#e69f00"/>
<circle cx="424.4" cy="315.1" r="1.35" fill="#e69f00"/>
<circle cx="423.1" cy="326.5" r="1.35" fill="#e69f00"/>
<circle cx="431.5" cy="326.5" r="1.35" fill="#e69f00"/>
<circle cx="434.3" cy="331.2" r="1.35" fill="#e69f00"/>
<circle cx="440.7" cy="293.3" r="1.35" fill="#ff0000"/>
<circle cx="442.4" cy="295" r="1.35" fill="#ff0000"/>
<circle cx="443.5" cy="295.5" r="1.35" fill="#ff0000"/>
<circle cx="447.1" cy="303.9" r="1.35" fill="#ff0000"/>
<circle cx="449.1" cy="301.4" r="1.35" fill="#ff0000"/>
<circle cx="451.9" cy="301.4" r="1.35" fill="#ff0000"/>
<circle cx="452.4" cy="303" r="1.35" fill="#ff0000"/>
<circle cx="442.4" cy="303.9" r="1.35" fill="#ff0000"/>
<circle cx="442" cy="306.7" r="1.35" fill="#ff0000"/>
<circle cx="452.1" cy="309.8" r="1.35" fill="#ff0000"/>
<circle cx="452.8" cy="312.6" r="1.35" fill="#ff0000"/>
<circle cx="441" cy="317.6" r="1.35" fill="#ff0000"/>
<circle cx="442.9" cy="319" r="1.35" fill="#ff0000"/>
<circle cx="440.2" cy="322.7" r="1.35" fill="#ff0000"/>
<circle cx="451.6" cy="322.7" r="1.35" fill="#ff0000"/>
<circle cx="450.8" cy="324.4" r="1.35" fill="#ff0000"/>
<circle cx="450.4" cy="327.4" r="1.35" fill="#ff0000"/>
<circle cx="450.4" cy="332.8" r="1.35" fill="#ff0000"/>
<circle cx="444" cy="336.6" r="1.35" fill="#ff0000"/>
<circle cx="451.1" cy="339.5" r="1.35" fill="#ff0000"/>
<circle cx="457.5" cy="285.4" r="1.35" fill="#a020f0"/>
<circle cx="459.5" cy="287.9" r="1.35" fill="#a020f0"/>
<circle cx="463.4" cy="286.2" r="1.35" fill="#a020f0"/>
<circle cx="469.2" cy="287.9" r="1.35" fill="#a020f0"/>
<circle cx="470.9" cy="285.4" r="1.35" fill="#a020f0"/>
<circle cx="471.8" cy="286.2" r="1.35" fill="#a020f0"/>
<circle cx="468.4" cy="291.8" r="1.35" fill="#a020f0"/>
<circle cx="467.2" cy="290.8" r="1.35" fill="#a020f0"/>
<circle cx="462.2" cy="298" r="1.35" fill="#a020f0"/>
<circle cx="471.2" cy="298.5" r="1.35" fill="#a020f0"/>
<circle cx="457.5" cy="303.4" r="1.35" fill="#a020f0"/>
<circle cx="459.5" cy="304.7" r="1.35" fill="#a020f0"/>
<circle cx="467.9" cy="303.4" r="1.35" fill="#a020f0"/>
<circle cx="470.9" cy="308.9" r="1.35" fill="#a020f0"/>
<circle cx="469.6" cy="309.8" r="1.35" fill="#a020f0"/>
<circle cx="456.6" cy="315.6" r="1.35" fill="#a020f0"/>
<circle cx="458.3" cy="314.8" r="1.35" fill="#a020f0"/>
<circle cx="466.7" cy="317.3" r="1.35" fill="#a020f0"/>
<circle cx="459.5" cy="326.5" r="1.35" fill="#a020f0"/>
<circle cx="464.7" cy="335.4" r="1.35" fill="#a020f0"/>
<circle cx="451.1" cy="339.7" r="1.35" fill="#ff0000"/>
<circle cx="453.3" cy="342.9" r="1.35" fill="#ff0000"/>
<circle cx="447.1" cy="345.9" r="1.35" fill="#ff0000"/>
<circle cx="441.5" cy="348.1" r="1.35" fill="#ff0000"/>
<circle cx="444" cy="349.8" r="1.35" fill="#ff0000"/>
<circle cx="445.4" cy="351.3" r="1.35" fill="#ff0000"/>
<circle cx="447.1" cy="348.8" r="1.35" fill="#ff0000"/>
<circle cx="441.2" cy="370.4" r="1.35" fill="#ff0000"/>
<circle cx="450.4" cy="374.5" r="1.35" fill="#ff0000"/>
<circle cx="449.4" cy="379.5" r="1.35" fill="#ff0000"/>
<circle cx="439.9" cy="384.2" r="1.35" fill="#ff0000"/>
<circle cx="446.1" cy="384.4" r="1.35" fill="#ff0000"/>
<circle cx="440.4" cy="419.8" r="1.35" fill="#ff0000"/>
<circle cx="442" cy="486.5" r="1.35" fill="#ff0000"/>
<circle cx="453.8" cy="523.4" r="1.35" fill="#ff0000"/>
<circle cx="450.8" cy="526.5" r="1.35" fill="#ff0000"/>
<circle cx="459.5" cy="356.5" r="1.35" fill="#a020f0"/>
<circle cx="468.1" cy="368.6" r="1.35" fill="#a020f0"/>
<circle cx="466.4" cy="406.5" r="1.35" fill="#a020f0"/>
<circle cx="460.8" cy="413.4" r="1.35" fill="#a020f0"/>
<circle cx="471.1" cy="431.2" r="1.35" fill="#a020f0"/>
<circle cx="459.3" cy="511" r="1.35" fill="#a020f0"/>
<circle cx="460.2" cy="537.4" r="1.35" fill="#a020f0"/>
<circle cx="425.2" cy="359.3" r="1.35" fill="#e69f00"/>
<circle cx="435.7" cy="443.8" r="1.35" fill="#e69f00"/>
<circle cx="426.8" cy="449.2" r="1.35" fill="#e69f00"/>
<circle cx="427.6" cy="457" r="1.35" fill="#e69f00"/>
<circle cx="431.8" cy="458" r="1.35" fill="#e69f00"/>
<circle cx="434.8" cy="502.1" r="1.35" fill="#e69f00"/>
<circle cx="428.6" cy="504.6" r="1.35" fill="#e69f00"/>
<circle cx="414.8" cy="378.1" r="1.35" fill="#009e73"/>
<circle cx="404.6" cy="394.9" r="1.35" fill="#009e73"/>
<circle cx="410.5" cy="398.3" r="1.35" fill="#009e73"/>
<circle cx="415.5" cy="403.3" r="1.35" fill="#009e73"/>
<circle cx="406.8" cy="462.7" r="1.35" fill="#009e73"/>
<circle cx="551.3" cy="71.7" r="1.35" fill="#a020f0"/>
<circle cx="552.6" cy="156.2" r="1.35" fill="#a020f0"/>
<circle cx="554.3" cy="170.5" r="1.35" fill="#a020f0"/>
<circle cx="552.8" cy="195.9" r="1.35" fill="#a020f0"/>
<circle cx="561" cy="256" r="1.35" fill="#a020f0"/>
<circle cx="560.2" cy="260.9" r="1.35" fill="#a020f0"/>
<circle cx="553.2" cy="261.4" r="1.35" fill="#a020f0"/>
<circle cx="552.6" cy="277.9" r="1.35" fill="#a020f0"/>
<circle cx="556.5" cy="284.9" r="1.35" fill="#a020f0"/>
<circle cx="505.5" cy="77.1" r="1.35" fill="#009e73"/>
<circle cx="510.2" cy="93.4" r="1.35" fill="#009e73"/>
<circle cx="508.3" cy="101.6" r="1.35" fill="#009e73"/>
<circle cx="501.8" cy="153.7" r="1.35" fill="#009e73"/>
<circle cx="511.5" cy="156.4" r="1.35" fill="#009e73"/>
<circle cx="498.2" cy="174.9" r="1.35" fill="#009e73"/>
<circle cx="502.6" cy="173" r="1.35" fill="#009e73"/>
<circle cx="507.8" cy="214" r="1.35" fill="#009e73"/>
<circle cx="500.9" cy="218.2" r="1.35" fill="#009e73"/>
<circle cx="509" cy="218.5" r="1.35" fill="#009e73"/>
<circle cx="498.9" cy="226.7" r="1.35" fill="#009e73"/>
<circle cx="501.6" cy="230.3" r="1.35" fill="#009e73"/>
<circle cx="497.4" cy="245.1" r="1.35" fill="#009e73"/>
<circle cx="499.1" cy="243.9" r="1.35" fill="#009e73"/>
<circle cx="499.6" cy="252.8" r="1.35" fill="#009e73"/>
<circle cx="501.8" cy="256.9" r="1.35" fill="#009e73"/>
<circle cx="508.5" cy="280.4" r="1.35" fill="#009e73"/>
<circle cx="518.9" cy="198" r="1.35" fill="#e69f00"/>
<circle cx="528.6" cy="257.7" r="1.35" fill="#e69f00"/>
<circle cx="539.2" cy="251.5" r="1.35" fill="#ff0000"/>
<circle cx="538.7" cy="284.7" r="1.35" fill="#ff0000"/>
<circle cx="499.1" cy="286.2" r="1.35" fill="#009e73"/>
<circle cx="504.6" cy="287.9" r="1.35" fill="#009e73"/>
<circle cx="506" cy="286.7" r="1.35" fill="#009e73"/>
<circle cx="506.8" cy="287.9" r="1.35" fill="#009e73"/>
<circle cx="510.5" cy="288.8" r="1.35" fill="#009e73"/>
<circle cx="500.4" cy="293.3" r="1.35" fill="#009e73"/>
<circle cx="504.1" cy="293.3" r="1.35" fill="#009e73"/>
<circle cx="512.2" cy="293.5" r="1.35" fill="#009e73"/>
<circle cx="507.1" cy="296" r="1.35" fill="#009e73"/>
<circle cx="498.4" cy="303.9" r="1.35" fill="#009e73"/>
<circle cx="510.2" cy="328.7" r="1.35" fill="#009e73"/>
<circle cx="543.6" cy="288.8" r="1.35" fill="#ff0000"/>
<circle cx="546.9" cy="291.8" r="1.35" fill="#ff0000"/>
<circle cx="535.4" cy="292.5" r="1.35" fill="#ff0000"/>
<circle cx="541.6" cy="294.1" r="1.35" fill="#ff0000"/>
<circle cx="545.4" cy="294.3" r="1.35" fill="#ff0000"/>
<circle cx="546.6" cy="296.8" r="1.35" fill="#ff0000"/>
<circle cx="547.8" cy="298.8" r="1.35" fill="#ff0000"/>
<circle cx="549.1" cy="299.3" r="1.35" fill="#ff0000"/>
<circle cx="547.9" cy="297.5" r="1.35" fill="#ff0000"/>
<circle cx="539.9" cy="302.5" r="1.35" fill="#ff0000"/>
<circle cx="545.8" cy="301.9" r="1.35" fill="#ff0000"/>
<circle cx="536.2" cy="307.6" r="1.35" fill="#ff0000"/>
<circle cx="544.9" cy="310.3" r="1.35" fill="#ff0000"/>
<circle cx="542.9" cy="311.9" r="1.35" fill="#ff0000"/>
<circle cx="543.7" cy="314" r="1.35" fill="#ff0000"/>
<circle cx="544.1" cy="317" r="1.35" fill="#ff0000"/>
<circle cx="536.5" cy="320.7" r="1.35" fill="#ff0000"/>
<circle cx="537.7" cy="322" r="1.35" fill="#ff0000"/>
<circle cx="541.6" cy="320.7" r="1.35" fill="#ff0000"/>
<circle cx="540.7" cy="322.7" r="1.35" fill="#ff0000"/>
<circle cx="538.2" cy="324.9" r="1.35" fill="#ff0000"/>
<circle cx="546.6" cy="333.3" r="1.35" fill="#ff0000"/>
<circle cx="543.2" cy="336.8" r="1.35" fill="#ff0000"/>
<circle cx="535.7" cy="339.5" r="1.35" fill="#ff0000"/>
<circle cx="551.6" cy="292.6" r="1.35" fill="#a020f0"/>
<circle cx="554.2" cy="290.8" r="1.35" fill="#a020f0"/>
<circle cx="561.7" cy="289.6" r="1.35" fill="#a020f0"/>
<circle cx="563.4" cy="290.8" r="1.35" fill="#a020f0"/>
<circle cx="566.9" cy="288.8" r="1.35" fill="#a020f0"/>
<circle cx="566.9" cy="293.5" r="1.35" fill="#a020f0"/>
<circle cx="553.3" cy="298" r="1.35" fill="#a020f0"/>
<circle cx="551.6" cy="300.2" r="1.35" fill="#a020f0"/>
<circle cx="558.9" cy="296.3" r="1.35" fill="#a020f0"/>
<circle cx="560" cy="296.7" r="1.35" fill="#a020f0"/>
<circle cx="561.2" cy="301.9" r="1.35" fill="#a020f0"/>
<circle cx="558.7" cy="313.4" r="1.35" fill="#a020f0"/>
<circle cx="559.5" cy="317.3" r="1.35" fill="#a020f0"/>
<circle cx="566.6" cy="314.8" r="1.35" fill="#a020f0"/>
<circle cx="552" cy="321.5" r="1.35" fill="#a020f0"/>
<circle cx="564.6" cy="321" r="1.35" fill="#a020f0"/>
<circle cx="566.2" cy="324.9" r="1.35" fill="#a020f0"/>
<circle cx="563.4" cy="326.9" r="1.35" fill="#a020f0"/>
<circle cx="555" cy="332.1" r="1.35" fill="#a020f0"/>
<circle cx="517.2" cy="300.5" r="1.35" fill="#e69f00"/>
<circle cx="521.4" cy="297.5" r="1.35" fill="#e69f00"/>
<circle cx="523.9" cy="299.2" r="1.35" fill="#e69f00"/>
<circle cx="524.8" cy="298.5" r="1.35" fill="#e69f00"/>
<circle cx="530.7" cy="298" r="1.35" fill="#e69f00"/>
<circle cx="523.9" cy="308.2" r="1.35" fill="#e69f00"/>
<circle cx="530" cy="309.4" r="1.35" fill="#e69f00"/>
<circle cx="522.3" cy="313.1" r="1.35" fill="#e69f00"/>
<circle cx="519.7" cy="314.8" r="1.35" fill="#e69f00"/>
<circle cx="523.4" cy="321.2" r="1.35" fill="#e69f00"/>
<circle cx="518.9" cy="327" r="1.35" fill="#e69f00"/>
<circle cx="520.6" cy="326.5" r="1.35" fill="#e69f00"/>
<circle cx="515.5" cy="332.1" r="1.35" fill="#e69f00"/>
<circle cx="519.7" cy="332.9" r="1.35" fill="#e69f00"/>
<circle cx="526.1" cy="330.4" r="1.35" fill="#e69f00"/>
<circle cx="518.6" cy="335.4" r="1.35" fill="#e69f00"/>
<circle cx="527" cy="334.9" r="1.35" fill="#e69f00"/>
<circle cx="519.7" cy="338.8" r="1.35" fill="#e69f00"/>
<circle cx="503.3" cy="341.4" r="1.35" fill="#009e73"/>
<circle cx="505.3" cy="368.9" r="1.35" fill="#009e73"/>
<circle cx="502.6" cy="380" r="1.35" fill="#009e73"/>
<circle cx="507.3" cy="398.6" r="1.35" fill="#009e73"/>
<circle cx="535.7" cy="340.4" r="1.35" fill="#ff0000"/>
<circle cx="545.8" cy="342.9" r="1.35" fill="#ff0000"/>
<circle cx="541.4" cy="393.6" r="1.35" fill="#ff0000"/>
<circle cx="537" cy="397.6" r="1.35" fill="#ff0000"/>
<circle cx="536.5" cy="415.8" r="1.35" fill="#ff0000"/>
<circle cx="543.4" cy="424.8" r="1.35" fill="#ff0000"/>
<circle cx="527.3" cy="355.5" r="1.35" fill="#e69f00"/>
<circle cx="528.3" cy="354.5" r="1.35" fill="#e69f00"/>
<circle cx="522.3" cy="388.4" r="1.35" fill="#e69f00"/>
<circle cx="525.3" cy="386.4" r="1.35" fill="#e69f00"/>
<circle cx="516.4" cy="427.2" r="1.35" fill="#e69f00"/>
<circle cx="531" cy="448.7" r="1.35" fill="#e69f00"/>
<circle cx="521.9" cy="452.4" r="1.35" fill="#e69f00"/>
<circle cx="522.6" cy="456.1" r="1.35" fill="#e69f00"/>
<circle cx="518.1" cy="457.8" r="1.35" fill="#e69f00"/>
<circle cx="521.3" cy="494.1" r="1.35" fill="#e69f00"/>
<circle cx="531" cy="542.5" r="1.35" fill="#e69f00"/>
<circle cx="559" cy="433.6" r="1.35" fill="#a020f0"/>
<circle cx="566.8" cy="463.8" r="1.35" fill="#a020f0"/>
<circle cx="556" cy="561.1" r="1.35" fill="#a020f0"/>
<circle cx="593.8" cy="92.2" r="1.35" fill="#009e73"/>
<circle cx="602" cy="89.2" r="1.35" fill="#009e73"/>
<circle cx="597.6" cy="183.9" r="1.35" fill="#009e73"/>
<circle cx="607" cy="191.7" r="1.35" fill="#009e73"/>
<circle cx="593.8" cy="206.9" r="1.35" fill="#009e73"/>
<circle cx="602.3" cy="205.8" r="1.35" fill="#009e73"/>
<circle cx="603" cy="239.7" r="1.35" fill="#009e73"/>
<circle cx="606" cy="241.4" r="1.35" fill="#009e73"/>
<circle cx="604.3" cy="245.1" r="1.35" fill="#009e73"/>
<circle cx="607.2" cy="259.7" r="1.35" fill="#009e73"/>
<circle cx="606.3" cy="270" r="1.35" fill="#009e73"/>
<circle cx="598" cy="277.3" r="1.35" fill="#009e73"/>
<circle cx="601.8" cy="276.7" r="1.35" fill="#009e73"/>
<circle cx="607.2" cy="278" r="1.35" fill="#009e73"/>
<circle cx="596.8" cy="285.7" r="1.35" fill="#009e73"/>
<circle cx="602.3" cy="285.7" r="1.35" fill="#009e73"/>
<circle cx="606.3" cy="284.6" r="1.35" fill="#009e73"/>
<circle cx="599.1" cy="290.8" r="1.35" fill="#009e73"/>
<circle cx="602.5" cy="291.8" r="1.35" fill="#009e73"/>
<circle cx="606" cy="293.5" r="1.35" fill="#009e73"/>
<circle cx="593.4" cy="293.8" r="1.35" fill="#009e73"/>
<circle cx="594.1" cy="297.2" r="1.35" fill="#009e73"/>
<circle cx="598" cy="307.2" r="1.35" fill="#009e73"/>
<circle cx="599.1" cy="313.1" r="1.35" fill="#009e73"/>
<circle cx="592.9" cy="323.7" r="1.35" fill="#009e73"/>
<circle cx="598.8" cy="361.5" r="1.35" fill="#009e73"/>
<circle cx="599.3" cy="379.8" r="1.35" fill="#009e73"/>
<circle cx="606.2" cy="408.2" r="1.35" fill="#009e73"/>
<circle cx="598.1" cy="411.4" r="1.35" fill="#009e73"/>
<circle cx="603.8" cy="438.9" r="1.35" fill="#009e73"/>
<circle cx="600.8" cy="482.8" r="1.35" fill="#009e73"/>
<circle cx="636.7" cy="215.2" r="1.35" fill="#ff0000"/>
<circle cx="637.9" cy="232.5" r="1.35" fill="#ff0000"/>
<circle cx="638.7" cy="243.9" r="1.35" fill="#ff0000"/>
<circle cx="635.4" cy="264.9" r="1.35" fill="#ff0000"/>
<circle cx="635.4" cy="292.1" r="1.35" fill="#ff0000"/>
<circle cx="636.6" cy="293.5" r="1.35" fill="#ff0000"/>
<circle cx="637.7" cy="294.1" r="1.35" fill="#ff0000"/>
<circle cx="639.4" cy="296.7" r="1.35" fill="#ff0000"/>
<circle cx="643.8" cy="292.5" r="1.35" fill="#ff0000"/>
<circle cx="644.1" cy="296.3" r="1.35" fill="#ff0000"/>
<circle cx="628.7" cy="298.3" r="1.35" fill="#ff0000"/>
<circle cx="634.4" cy="298" r="1.35" fill="#ff0000"/>
<circle cx="635.4" cy="299.2" r="1.35" fill="#ff0000"/>
<circle cx="630.2" cy="303" r="1.35" fill="#ff0000"/>
<circle cx="634.9" cy="304.7" r="1.35" fill="#ff0000"/>
<circle cx="638.2" cy="302.5" r="1.35" fill="#ff0000"/>
<circle cx="641.6" cy="305.2" r="1.35" fill="#ff0000"/>
<circle cx="643.3" cy="301.4" r="1.35" fill="#ff0000"/>
<circle cx="630.7" cy="305.9" r="1.35" fill="#ff0000"/>
<circle cx="641.6" cy="312.6" r="1.35" fill="#ff0000"/>
<circle cx="636.1" cy="318.1" r="1.35" fill="#ff0000"/>
<circle cx="634.1" cy="320.7" r="1.35" fill="#ff0000"/>
<circle cx="636.6" cy="322" r="1.35" fill="#ff0000"/>
<circle cx="631" cy="336.6" r="1.35" fill="#ff0000"/>
<circle cx="639.9" cy="337" r="1.35" fill="#ff0000"/>
<circle cx="641.9" cy="337" r="1.35" fill="#ff0000"/>
<circle cx="643.5" cy="375.6" r="1.35" fill="#ff0000"/>
<circle cx="643.3" cy="392.8" r="1.35" fill="#ff0000"/>
<circle cx="629" cy="489" r="1.35" fill="#ff0000"/>
<circle cx="631" cy="494.2" r="1.35" fill="#ff0000"/>
<circle cx="658.4" cy="236.4" r="1.35" fill="#a020f0"/>
<circle cx="657.9" cy="272.3" r="1.35" fill="#a020f0"/>
<circle cx="647.5" cy="282" r="1.35" fill="#a020f0"/>
<circle cx="646.3" cy="286.2" r="1.35" fill="#a020f0"/>
<circle cx="650.2" cy="291.3" r="1.35" fill="#a020f0"/>
<circle cx="657.2" cy="293.5" r="1.35" fill="#a020f0"/>
<circle cx="649.2" cy="295.8" r="1.35" fill="#a020f0"/>
<circle cx="653.4" cy="296.7" r="1.35" fill="#a020f0"/>
<circle cx="661.2" cy="297.2" r="1.35" fill="#a020f0"/>
<circle cx="647.8" cy="304.4" r="1.35" fill="#a020f0"/>
<circle cx="654.5" cy="303.9" r="1.35" fill="#a020f0"/>
<circle cx="658.9" cy="303.9" r="1.35" fill="#a020f0"/>
<circle cx="661.8" cy="304.9" r="1.35" fill="#a020f0"/>
<circle cx="653.4" cy="308.9" r="1.35" fill="#a020f0"/>
<circle cx="652.2" cy="313.1" r="1.35" fill="#a020f0"/>
<circle cx="654.2" cy="314.3" r="1.35" fill="#a020f0"/>
<circle cx="647.1" cy="316" r="1.35" fill="#a020f0"/>
<circle cx="661.2" cy="316.5" r="1.35" fill="#a020f0"/>
<circle cx="661.8" cy="319.8" r="1.35" fill="#a020f0"/>
<circle cx="662.1" cy="321.5" r="1.35" fill="#a020f0"/>
<circle cx="654.5" cy="324.4" r="1.35" fill="#a020f0"/>
<circle cx="656.7" cy="324" r="1.35" fill="#a020f0"/>
<circle cx="648.8" cy="327" r="1.35" fill="#a020f0"/>
<circle cx="647.5" cy="327.7" r="1.35" fill="#a020f0"/>
<circle cx="647.1" cy="329.9" r="1.35" fill="#a020f0"/>
<circle cx="650.2" cy="336.6" r="1.35" fill="#a020f0"/>
<circle cx="649.7" cy="529" r="1.35" fill="#a020f0"/>
<circle cx="649.7" cy="531.2" r="1.35" fill="#a020f0"/>
<circle cx="650.8" cy="535" r="1.35" fill="#a020f0"/>
<circle cx="653.6" cy="567.1" r="1.35" fill="#a020f0"/>
<circle cx="621.8" cy="254.8" r="1.35" fill="#e69f00"/>
<circle cx="626" cy="270" r="1.35" fill="#e69f00"/>
<circle cx="621.3" cy="288.1" r="1.35" fill="#e69f00"/>
<circle cx="613.9" cy="297.2" r="1.35" fill="#e69f00"/>
<circle cx="612.6" cy="298.8" r="1.35" fill="#e69f00"/>
<circle cx="612.2" cy="303.4" r="1.35" fill="#e69f00"/>
<circle cx="615.1" cy="303" r="1.35" fill="#e69f00"/>
<circle cx="615.1" cy="315.3" r="1.35" fill="#e69f00"/>
<circle cx="616.4" cy="328.2" r="1.35" fill="#e69f00"/>
<circle cx="625.3" cy="328.2" r="1.35" fill="#e69f00"/>
<circle cx="620.3" cy="332.8" r="1.35" fill="#e69f00"/>
<circle cx="621" cy="335.4" r="1.35" fill="#e69f00"/>
<circle cx="623.1" cy="339.5" r="1.35" fill="#e69f00"/>
<circle cx="622.8" cy="339.5" r="1.35" fill="#e69f00"/>
<circle cx="625.3" cy="341.4" r="1.35" fill="#e69f00"/>
<circle cx="618.1" cy="342.7" r="1.35" fill="#e69f00"/>
<circle cx="613.2" cy="344.2" r="1.35" fill="#e69f00"/>
<circle cx="620.1" cy="356" r="1.35" fill="#e69f00"/>
<circle cx="611.9" cy="361.5" r="1.35" fill="#e69f00"/>
<circle cx="615.1" cy="365.2" r="1.35" fill="#e69f00"/>
<circle cx="617.6" cy="366.6" r="1.35" fill="#e69f00"/>
<circle cx="613.4" cy="368.2" r="1.35" fill="#e69f00"/>
<circle cx="625.3" cy="365.2" r="1.35" fill="#e69f00"/>
<circle cx="616.9" cy="376.5" r="1.35" fill="#e69f00"/>
<circle cx="617.4" cy="386.5" r="1.35" fill="#e69f00"/>
<circle cx="625.7" cy="418.4" r="1.35" fill="#e69f00"/>
<circle cx="625.7" cy="443.3" r="1.35" fill="#e69f00"/>
<circle cx="618.4" cy="452.1" r="1.35" fill="#e69f00"/>
<circle cx="621.6" cy="497.9" r="1.35" fill="#e69f00"/>
<circle cx="624.5" cy="519.8" r="1.35" fill="#e69f00"/>
<line x1="342.3" y1="133.2" x2="342.3" y2="242" stroke="#777" stroke-width="1"/>
<line x1="342.3" y1="316.3" x2="342.3" y2="416.9" stroke="#777" stroke-width="1"/>
<rect x="306.5" y="242" width="71.6" height="74.3" fill="none" stroke="#a0a0a0" stroke-width="1.3"/>
<line x1="306.5" y1="285.9" x2="378.1" y2="285.9" stroke="#4a4a4a" stroke-width="1.9"/>
<line x1="437.3" y1="183.1" x2="437.3" y2="266.7" stroke="#777" stroke-width="1"/>
<line x1="437.3" y1="333.9" x2="437.3" y2="431.1" stroke="#777" stroke-width="1"/>
<rect x="401.5" y="266.7" width="71.6" height="67.2" fill="none" stroke="#a0a0a0" stroke-width="1.3"/>
<line x1="401.5" y1="293.6" x2="473.1" y2="293.6" stroke="#4a4a4a" stroke-width="1.9"/>
<line x1="532.3" y1="213.8" x2="532.3" y2="286.6" stroke="#777" stroke-width="1"/>
<line x1="532.3" y1="337" x2="532.3" y2="398.8" stroke="#777" stroke-width="1"/>
<rect x="496.5" y="286.6" width="71.6" height="50.4" fill="none" stroke="#a0a0a0" stroke-width="1.3"/>
<line x1="496.5" y1="303.9" x2="568.1" y2="303.9" stroke="#4a4a4a" stroke-width="1.9"/>
<line x1="627.3" y1="184.2" x2="627.3" y2="292.7" stroke="#777" stroke-width="1"/>
<line x1="627.3" y1="365" x2="627.3" y2="451.5" stroke="#777" stroke-width="1"/>
<rect x="591.5" y="292.7" width="71.6" height="72.3" fill="none" stroke="#a0a0a0" stroke-width="1.3"/>
<line x1="591.5" y1="307.9" x2="663.1" y2="307.9" stroke="#4a4a4a" stroke-width="1.9"/>
<text x="341.4" y="551.7" font-size="14" text-anchor="middle" fill="#1a1a1a" font-weight="normal" >med=5.84</text>
<text x="341.3" y="569.4" font-size="14" text-anchor="middle" fill="#1a1a1a" font-weight="normal" >p=0.0322</text>
<text x="436.3" y="551.7" font-size="14" text-anchor="middle" fill="#1a1a1a" font-weight="normal" >med=-0.061</text>
<text x="435.7" y="569.4" font-size="14" text-anchor="middle" fill="#1a1a1a" font-weight="normal" >p=0.261</text>
<text x="531.5" y="551.7" font-size="14" text-anchor="middle" fill="#1a1a1a" font-weight="normal" >med=-8.17</text>
<text x="531.6" y="569.4" font-size="14" text-anchor="middle" fill="#1a1a1a" font-weight="normal" >p=1.41E-3</text>
<text x="631.5" y="551.7" font-size="14" text-anchor="middle" fill="#1a1a1a" font-weight="normal" >med=-11.1</text>
<text x="632" y="569.4" font-size="14" text-anchor="middle" fill="#1a1a1a" font-weight="normal" >p=2.21E-7</text>
<text x="341.9" y="603.7" font-size="16.4" text-anchor="middle" fill="#111" font-weight="normal" >PSY1-17</text>
<text x="435.2" y="603.7" font-size="16.4" text-anchor="middle" fill="#111" font-weight="normal" >PSY1-9</text>
<text x="532.3" y="603.7" font-size="16.4" text-anchor="middle" fill="#111" font-weight="normal" >PSY1-17</text>
<text x="626.5" y="603.7" font-size="16.4" text-anchor="middle" fill="#111" font-weight="normal" >PSY1-9</text>
<path d="M341.9,612.3 C343.9,619 353.9,621.4 366.9,621.4 L375.8,621.4 C383.8,621.4 388.8,624 389.8,629.4 C390.8,624 395.8,621.4 403.8,621.4 L412.7,621.4 C425.7,621.4 435.7,619 437.7,612.3" fill="none" stroke="#2f6f94" stroke-width="1.8"/>
<path d="M531.9,612.3 C533.9,619 543.9,621.4 556.9,621.4 L565.8,621.4 C573.8,621.4 578.8,624 579.8,629.4 C580.8,624 585.8,621.4 593.8,621.4 L602.7,621.4 C615.7,621.4 625.7,619 627.7,612.3" fill="none" stroke="#2f6f94" stroke-width="1.8"/>
<circle cx="601.9" cy="23.1" r="5.8" fill="#1b9e77"/>
<text x="619.8" y="28.3" font-size="13.9" text-anchor="start" fill="#222" font-weight="normal" >15 days</text>
<circle cx="601.9" cy="42.9" r="5.8" fill="#e69f00"/>
<text x="619.8" y="48.1" font-size="13.9" text-anchor="start" fill="#222" font-weight="normal" >30 days</text>
<circle cx="601.9" cy="62.7" r="5.8" fill="#ff0000"/>
<text x="619.8" y="67.9" font-size="13.9" text-anchor="start" fill="#222" font-weight="normal" >55 days</text>
<circle cx="601.9" cy="82.5" r="5.8" fill="#a020f0"/>
<text x="619.8" y="87.7" font-size="13.9" text-anchor="start" fill="#222" font-weight="normal" >70 days</text>
<text x="4.2" y="9.2" font-size="15.5" text-anchor="start" fill="#000" font-weight="bold" >a</text>
<text x="4.2" y="321.2" font-size="15.5" text-anchor="start" fill="#000" font-weight="bold" >b</text>
<text x="232.4" y="9.5" font-size="15.5" text-anchor="start" fill="#000" font-weight="bold" >c</text>
<text transform="translate(12.3,44.2) rotate(-90)" font-size="15.5" text-anchor="middle" fill="#222">sugar</text>
<text transform="translate(12.3,159) rotate(-90)" font-size="15.5" text-anchor="middle" fill="#222">preference</text>
<text transform="translate(12.3,267.3) rotate(-90)" font-size="15.5" text-anchor="middle" fill="#222">acid</text>
<text transform="translate(13.3,448.7) rotate(-90)" font-size="15.5" text-anchor="middle" fill="#222">GC contents</text>
<text transform="translate(241.4,145.1) rotate(-90)" font-size="15.4" text-anchor="middle" fill="#222">Differential activity: PSY &gt; Kitaake</text>
<text transform="translate(241.4,432.6) rotate(-90)" font-size="15.4" text-anchor="middle" fill="#222">Differential activity: PSY &lt; Kitaake</text>
<line x1="8.1" y1="111.4" x2="8.1" y2="79" stroke="#777" stroke-width="1.8"/>
<path d="M5.1,80 L8.1,73.6 L11.1,80 Z" fill="#222"/>
<line x1="8.1" y1="206.5" x2="8.1" y2="239" stroke="#777" stroke-width="1.8"/>
<path d="M5.1,238 L8.1,244.6 L11.1,238 Z" fill="#222"/>
<g transform="translate(93.5,597.8) rotate(-30)" font-size="15.5" fill="#222"><text x="0" y="0" text-anchor="end">H<tspan font-size="6" dy="6" dx="0.6">2</tspan><tspan dy="-6">-consuming</tspan></text><text x="-45.85" y="17.8" text-anchor="middle">genomes</text></g>
<g transform="translate(169.3,597.8) rotate(-30)" font-size="15.5" fill="#222"><text x="0" y="0" text-anchor="end">H<tspan font-size="6" dy="6" dx="0.6">2</tspan><tspan dy="-6">-producing</tspan></text><text x="-42.4" y="17.8" text-anchor="middle">genomes</text></g>
<text x="387.8" y="646" font-size="15.3" text-anchor="middle" fill="#222">H<tspan font-size="6" dy="5.3">2</tspan><tspan dy="-5.3">-consuming genomes</tspan></text>
<text x="575.4" y="646" font-size="15.3" text-anchor="middle" fill="#222">H<tspan font-size="6" dy="5.3">2</tspan><tspan dy="-5.3">-producing genomes</tspan></text>
</svg></body></html>
